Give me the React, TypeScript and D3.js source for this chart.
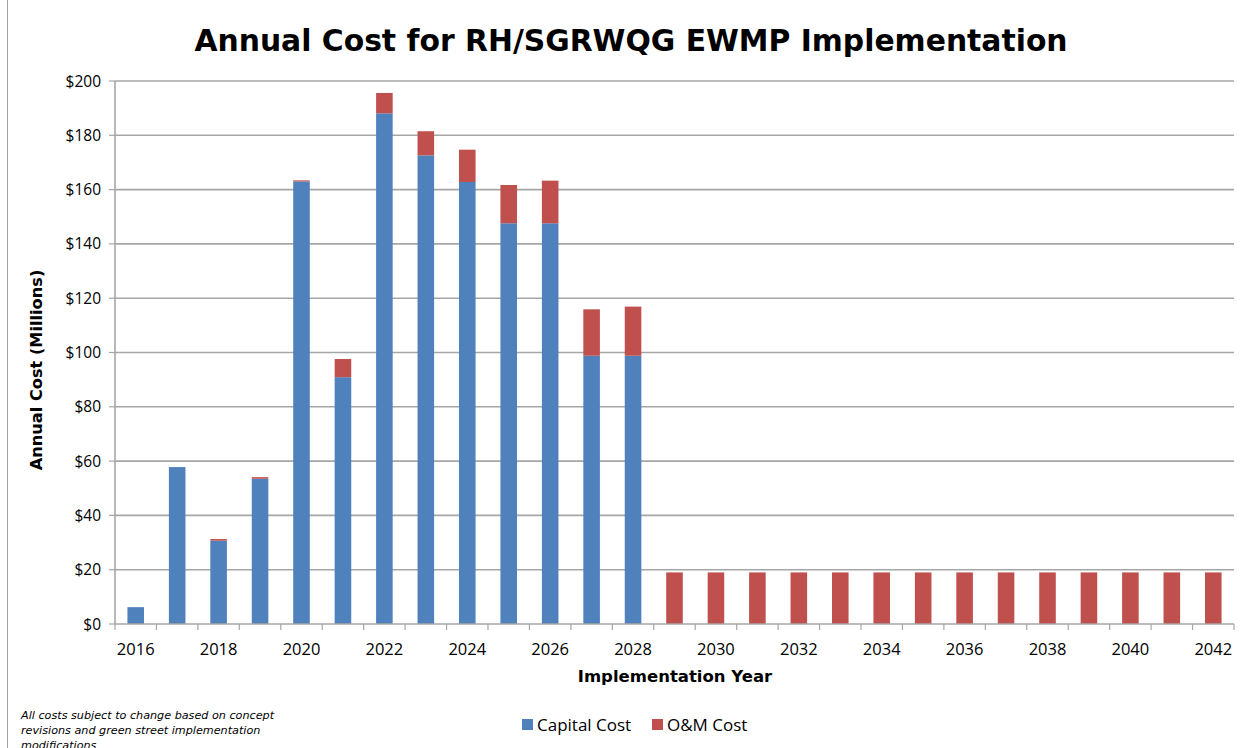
import React from "react";
import * as d3 from "d3";

const years = [2016,2017,2018,2019,2020,2021,2022,2023,2024,2025,2026,2027,2028,2029,2030,2031,2032,2033,2034,2035,2036,2037,2038,2039,2040,2041,2042];
const capitalCost = [6.2,57.8,30.7,53.5,163.0,90.9,188.1,172.6,162.8,147.6,147.6,98.8,98.8,0,0,0,0,0,0,0,0,0,0,0,0,0,0];
const omCost = [0,0,0.6,0.6,0.4,6.7,7.5,8.9,11.9,14.1,15.7,17.1,18.1,19,19,19,19,19,19,19,19,19,19,19,19,19,19];
const yTicks = [0,20,40,60,80,100,120,140,160,180,200];
const xLabelYears = [2016,2018,2020,2022,2024,2026,2028,2030,2032,2034,2036,2038,2040,2042];
const seriesNames = ["Capital Cost", "O&M Cost"];
const colors = ["#4F81BD", "#C0504D"];

export default function App() {
  const W = 1250, H = 748;
  const left = 115, right = 1234, top = 81, bottom = 624;
  const x = d3.scaleBand<number>().domain(years).range([left, right]).paddingInner(0.6).paddingOuter(0.3);
  const band = d3.scaleBand<number>().domain(years).range([left, right]);
  const y = d3.scaleLinear().domain([0, 200]).range([bottom, top]);
  const stackData = years.map((yr, i) => ({ year: yr, cap: capitalCost[i], om: omCost[i] }));
  const stack = d3.stack<any>().keys(["cap", "om"])(stackData);
  const tickFont = "'Open Sans', 'Noto Sans', sans-serif";
  const boldFont = "'DejaVu Sans', Verdana, sans-serif";
  return (
    <svg width={W} height={H} style={{ position: "absolute", left: 0, top: 0, background: "#fff" }}>
      <line x1={7.5} x2={7.5} y1={0} y2={H} stroke="#a0a0a0" strokeWidth={1} />
      <text x={631} y={51} textAnchor="middle" fontFamily={boldFont} fontWeight="bold" fontSize={29.8} fill="#000">
        Annual Cost for RH/SGRWQG EWMP Implementation
      </text>
      {yTicks.map(t => (
        <g key={t}>
          {t > 0 && <line x1={left} x2={right} y1={y(t)} y2={y(t)} stroke="#a6a6a6" strokeWidth={1.6} />}
          <line x1={left - 6} x2={left} y1={y(t)} y2={y(t)} stroke="#a6a6a6" strokeWidth={1.2} />
          <text x={left - 14} y={y(t) + 5.5} textAnchor="end" fontFamily={tickFont} fontSize={15.5} fill="#000">${t}</text>
        </g>
      ))}
      {stack.map((s, si) => (
        <g key={si} fill={colors[si]}>
          {s.map((d: any, i: number) => (
            d[1] - d[0] > 0 ? (
              <rect key={i} x={x(years[i])} width={x.bandwidth()} y={y(d[1])} height={y(d[0]) - y(d[1])} />
            ) : null
          ))}
        </g>
      ))}
      <line x1={left} x2={left} y1={top} y2={bottom} stroke="#a6a6a6" strokeWidth={1.6} />
      <line x1={left} x2={right} y1={bottom} y2={bottom} stroke="#a6a6a6" strokeWidth={1.6} />
      {[...years, 2043].map((yr, i) => {
        const xx = left + i * band.bandwidth();
        return <line key={yr} x1={xx} x2={xx} y1={bottom} y2={bottom + 6} stroke="#a6a6a6" strokeWidth={1.2} />;
      })}
      {xLabelYears.map(yr => (
        <text key={yr} x={(band(yr) as number) + band.bandwidth() / 2} y={655} textAnchor="middle" fontFamily={tickFont} fontSize={16.5} fill="#000">{yr}</text>
      ))}
      <text x={675} y={682} textAnchor="middle" fontFamily={boldFont} fontWeight="bold" fontSize={16.5} fill="#000">Implementation Year</text>
      <text transform="translate(42,370) rotate(-90)" textAnchor="middle" fontFamily={boldFont} fontWeight="bold" fontSize={16.2} fill="#000">Annual Cost (Millions)</text>
      <g fontFamily={boldFont} fontStyle="italic" fontSize={11.2} fill="#000">
        <text x={21} y={719}>All costs subject to change based on concept</text>
        <text x={21} y={734}>revisions and green street implementation</text>
        <text x={21} y={749}>modifications</text>
      </g>
      {seriesNames.map((n, i) => {
        const lx = i === 0 ? 522 : 652;
        return (
          <g key={n}>
            <rect x={lx} y={719} width={11} height={11} fill={colors[i]} />
            <text x={lx + 15} y={731} fontFamily={tickFont} fontSize={17} fill="#000">{n}</text>
          </g>
        );
      })}
    </svg>
  );
}
